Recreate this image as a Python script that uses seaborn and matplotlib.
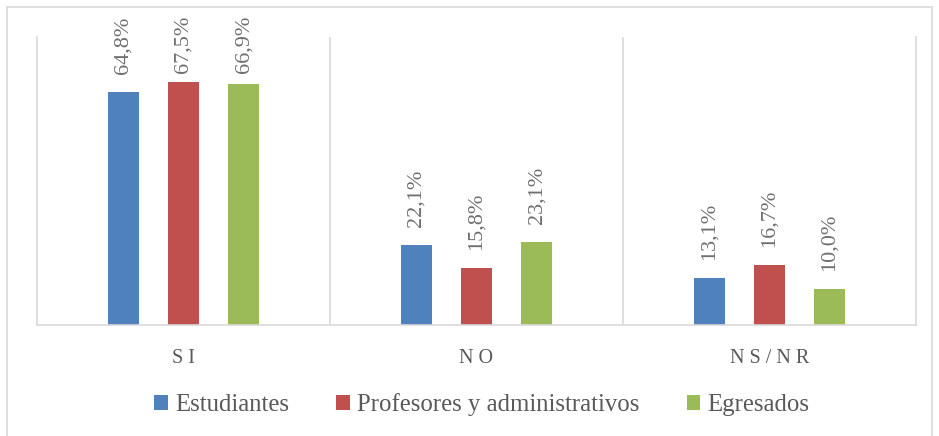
import matplotlib
matplotlib.use("Agg")
import matplotlib.pyplot as plt
import seaborn as sns
import pandas as pd
from matplotlib.patches import Rectangle

categories = ["SI", "NO", "NS/NR"]
series = ["Estudiantes", "Profesores y administrativos", "Egresados"]
estudiantes = [64.8, 22.1, 13.1]
profesores = [67.5, 15.8, 16.7]
egresados = [66.9, 23.1, 10.0]
colors = ["#4F81BD", "#C0504D", "#9BBB59"]

rows = []
for s, vals in zip(series, [estudiantes, profesores, egresados]):
    for c, v in zip(categories, vals):
        rows.append({"cat": c, "serie": s, "val": v})
df = pd.DataFrame(rows)

sns.set_theme(style="white")
plt.rcParams['font.family'] = ['Liberation Serif', 'DejaVu Serif']

fig = plt.figure(figsize=(9.39, 4.36), dpi=100)
ax = fig.add_axes([37/939, 1 - 325/436, 879/939, 288/436])

sns.barplot(data=df, x="cat", y="val", hue="serie", order=categories,
            hue_order=series, palette=colors, width=0.615, gap=0.47,
            saturation=1, ax=ax, legend=True, edgecolor="none")

ax.set_ylim(0, 80)
ax.set_xlim(-0.5, 2.5)
ax.set_yticks([])
ax.set_xlabel("")
ax.set_ylabel("")
grid_c = "#D9D9D9"
ax.spines["top"].set_visible(False)
for sp in ["left", "right", "bottom"]:
    ax.spines[sp].set_color(grid_c)
    ax.spines[sp].set_linewidth(1.2)
for xb in [0.5, 1.5]:
    ax.axvline(xb, color=grid_c, lw=1.2, zorder=0)

ax.set_xticks(range(len(categories)))
ax.set_xticklabels([" ".join(c) for c in categories], fontsize=14.5, color="#595959")
ax.tick_params(axis="x", length=0, pad=17)

fig.canvas.draw()
renderer = fig.canvas.get_renderer()
fig_h_px = fig.get_size_inches()[1] * fig.dpi
top_limit = fig_h_px - 16
for cont in ax.containers:
    for bar in cont:
        h = bar.get_height()
        xc = bar.get_x() + bar.get_width() / 2
        t = ax.annotate(f"{h:.1f}%".replace(".", ","), (xc, h),
                        xytext=(0, 13), textcoords="offset points",
                        rotation=90, ha="center", va="bottom",
                        fontsize=16, color="#6F6F6F")
        ext = t.get_window_extent(renderer)
        if ext.y1 > top_limit:
            shift_pt = (ext.y1 - top_limit) * 72 / fig.dpi
            t.set_position((0, 13 - shift_pt))

leg = ax.legend(loc="center", bbox_to_anchor=(482/939, (436 - 405) / 436), bbox_transform=fig.transFigure,
                ncol=3, frameon=False, fontsize=17.8, handlelength=0.55, handleheight=0.55,
                handletextpad=0.3, columnspacing=1.9)
for t in leg.get_texts():
    t.set_color("#595959")

fig.patches.append(Rectangle((7/939, -0.02), 925/939, 1 - 7/436 + 0.02, transform=fig.transFigure,
                             fill=False, edgecolor=grid_c, lw=1.2))

fig.savefig("out.png", dpi=100)
